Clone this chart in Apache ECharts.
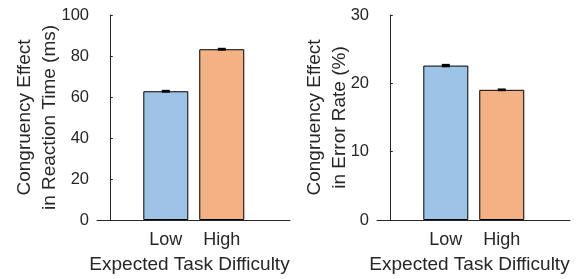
<!DOCTYPE html>
<html>
<head>
<meta charset="utf-8">
<script src="https://cdn.jsdelivr.net/npm/echarts@6/dist/echarts.min.js"></script>
<style>
html, body { margin: 0; padding: 0; background: #fff; }
#main { width: 585px; height: 279px; }
</style>
</head>
<body>
<div id="main"></div>
<script>
// data
var categories = ['Low', 'High'];
var catPos = [1, 2];
var rtValues = [62.8, 83.3];
var rtErrors = [0.7, 0.7];
var erValues = [22.6, 19.05];
var erErrors = [0.25, 0.2];
var rtTicks = [0, 20, 40, 60, 80, 100];
var erTicks = [0, 10, 20, 30];
var barColors = ['#9dc3e6', '#f4b183'];

var textColor = '#262626';
var fontFam = '"Liberation Sans", Arial, Helvetica, sans-serif';

var myChart = echarts.init(document.getElementById('main'));

function xAxisOpt(idx) {
	return {
		gridIndex: idx,
		type: 'value',
		min: -0.23,
		max: 3.22,
		name: 'Expected Task Difficulty',
		nameLocation: 'middle',
		nameGap: 35,
		nameMoveOverlap: false,
		nameTextStyle: { color: textColor, fontSize: 19, fontFamily: fontFam, padding: [0, 8, 0, 0] },
		splitLine: { show: false },
		axisLine: { lineStyle: { color: textColor, width: 1 } },
		axisTick: { show: false },
		axisLabel: {
			customValues: catPos,
			color: textColor,
			fontSize: 18,
			fontFamily: fontFam,
			margin: 11,
			formatter: function (v) { return categories[catPos.indexOf(v)] || ''; }
		}
	};
}

function yAxisOpt(idx, ticks, title, gap) {
	return {
		gridIndex: idx,
		type: 'value',
		min: ticks[0],
		max: ticks[ticks.length - 1],
		interval: ticks[1] - ticks[0],
		name: title,
		nameLocation: 'middle',
		nameGap: gap,
		nameMoveOverlap: false,
		nameTextStyle: { color: textColor, fontSize: 19, fontFamily: fontFam, lineHeight: 25 },
		splitLine: { show: false },
		axisLine: { show: true, lineStyle: { color: textColor, width: 1 } },
		axisTick: { show: true, inside: true, length: 3, lineStyle: { color: textColor } },
		axisLabel: { color: textColor, fontSize: 16.5, fontFamily: fontFam, margin: 8 }
	};
}

function barData(vals) {
	return vals.map(function (v, i) {
		return { value: [catPos[i], v], itemStyle: { color: barColors[i] } };
	});
}

function errData(vals, errs) {
	return vals.map(function (v, i) { return [catPos[i], v, errs[i]]; });
}

function renderErr(params, api) {
	var x = api.value(0), v = api.value(1), e = api.value(2);
	var top = api.coord([x, v + e]);
	var bot = api.coord([x, v - e]);
	var h = Math.max(bot[1] - top[1], 2.5);
	return {
		type: 'rect',
		shape: { x: top[0] - 4, y: (top[1] + bot[1]) / 2 - h / 2, width: 8, height: h },
		style: { fill: '#000' }
	};
}

var option = {
	animation: false,
	grid: [
		{ left: 97, top: 15, width: 193, height: 205 },
		{ left: 377, top: 15, width: 193, height: 205 }
	],
	xAxis: [xAxisOpt(0), xAxisOpt(1)],
	yAxis: [
		yAxisOpt(0, rtTicks, 'Congruency Effect\nin Reaction Time (ms)', 35),
		yAxisOpt(1, erTicks, 'Congruency Effect\nin Error Rate (%)', 25)
	],
	series: [
		{
			type: 'bar', xAxisIndex: 0, yAxisIndex: 0, barWidth: 45,
			itemStyle: { borderColor: '#000', borderWidth: 1 },
			data: barData(rtValues)
		},
		{
			type: 'custom', xAxisIndex: 0, yAxisIndex: 0, z: 5,
			renderItem: renderErr, data: errData(rtValues, rtErrors)
		},
		{
			type: 'bar', xAxisIndex: 1, yAxisIndex: 1, barWidth: 45,
			itemStyle: { borderColor: '#000', borderWidth: 1 },
			data: barData(erValues)
		},
		{
			type: 'custom', xAxisIndex: 1, yAxisIndex: 1, z: 5,
			renderItem: renderErr, data: errData(erValues, erErrors)
		}
	]
};
myChart.setOption(option);
</script>
</body>
</html>
